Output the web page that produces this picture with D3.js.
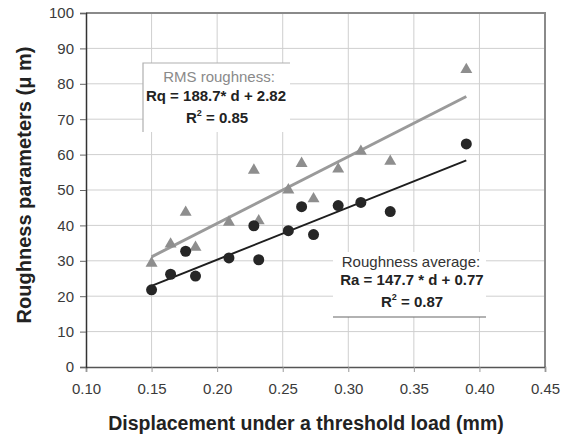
<!DOCTYPE html>
<html>
<head>
<meta charset="utf-8">
<script src="https://cdn.jsdelivr.net/npm/d3@7"></script>
<style>
  html, body { margin: 0; padding: 0; background: #fff; }
  svg { display: block; font-family: Arial, "Liberation Sans", sans-serif; }
</style>
</head>
<body>
<svg id="chart" width="569" height="439"></svg>
<script>
// Displacement under a threshold load (mm)
const displacement = [0.150, 0.1645, 0.176, 0.1835, 0.209, 0.228, 0.2317, 0.2543, 0.2644, 0.2735, 0.2923, 0.3096, 0.332, 0.390];
// RMS roughness Rq (µm)
const rmsRoughness = [29.3, 34.7, 43.7, 33.8, 40.9, 55.6, 41.3, 50.0, 57.5, 47.5, 55.9, 60.9, 58.1, 84.0];
// Roughness average Ra (µm)
const avgRoughness = [21.8, 26.2, 32.7, 25.7, 30.8, 39.9, 30.3, 38.5, 45.3, 37.4, 45.6, 46.5, 43.9, 63.0];
// Linear fits: [slope, intercept]
const rqFit = [188.7, 2.82];
const raFit = [147.7, 0.77];
const xTicks = [0.10, 0.15, 0.20, 0.25, 0.30, 0.35, 0.40, 0.45];
const yTicks = [0, 10, 20, 30, 40, 50, 60, 70, 80, 90, 100];

const svg = d3.select("#chart");
const margin = { top: 13, right: 24, bottom: 72, left: 86 };
const W = 569, H = 439;
const iw = W - margin.left - margin.right;
const ih = H - margin.top - margin.bottom;

const x = d3.scaleLinear().domain([0.10, 0.45]).range([margin.left, margin.left + iw]);
const y = d3.scaleLinear().domain([0, 100]).range([margin.top + ih, margin.top]);

// Gridlines
const grid = svg.append("g");
grid.selectAll("line.h").data(yTicks.slice(1, -1)).join("line")
  .attr("x1", x(0.10)).attr("x2", x(0.45))
  .attr("y1", d => y(d)).attr("y2", d => y(d))
  .attr("stroke", "#cfcfcf").attr("stroke-width", 1);
grid.selectAll("line.v").data(xTicks.slice(1, -1)).join("line")
  .attr("x1", d => x(d)).attr("x2", d => x(d))
  .attr("y1", y(0)).attr("y2", y(100))
  .attr("stroke", "#cfcfcf").attr("stroke-width", 1);

// Top and right frame
svg.append("path")
  .attr("d", `M${x(0.10)},${y(100)}H${x(0.45)}V${y(0)}`)
  .attr("fill", "none").attr("stroke", "#8a8a8a").attr("stroke-width", 2);

// Axes
const xAxis = svg.append("g")
  .attr("transform", `translate(0,${y(0)})`)
  .call(d3.axisBottom(x).tickValues(xTicks).tickFormat(d3.format(".2f")).tickSize(5).tickPadding(11));
xAxis.select(".domain").attr("stroke", "#555").attr("stroke-width", 1.5);
xAxis.selectAll(".tick line").attr("stroke", "#999");
xAxis.selectAll("text").attr("font-size", 15).attr("fill", "#3a3a3a")
  .attr("font-family", "Arial, 'Liberation Sans', sans-serif");

const yAxis = svg.append("g")
  .attr("transform", `translate(${x(0.10)},0)`)
  .call(d3.axisLeft(y).tickValues(yTicks).tickSize(6).tickPadding(6));
yAxis.select(".domain").attr("stroke", "#333").attr("stroke-width", 1.5);
yAxis.selectAll(".tick line").attr("stroke", "#666");
yAxis.selectAll("text").attr("font-size", 15).attr("fill", "#3a3a3a")
  .attr("font-family", "Arial, 'Liberation Sans', sans-serif");

// Trend lines
const fitLine = (fit) => [0.15, 0.39].map(d => [x(d), y(fit[0] * d + fit[1])]);
svg.append("path").attr("d", d3.line()(fitLine(rqFit)))
  .attr("stroke", "#9a9a9a").attr("stroke-width", 3).attr("fill", "none");
svg.append("path").attr("d", d3.line()(fitLine(raFit)))
  .attr("stroke", "#1e1e1e").attr("stroke-width", 2).attr("fill", "none");

// Markers
const tri = d3.symbol().type(d3.symbolTriangle).size(62);
svg.append("g").selectAll("path").data(displacement).join("path")
  .attr("d", tri)
  .attr("transform", (d, i) => `translate(${x(d)},${y(rmsRoughness[i])})`)
  .attr("fill", "#8e8e8e");
svg.append("g").selectAll("circle").data(displacement).join("circle")
  .attr("cx", d => x(d)).attr("cy", (d, i) => y(avgRoughness[i]))
  .attr("r", 5.5).attr("fill", "#262626");

// Equation boxes
function rSquared(g, cx, baseY, value) {
  const t = g.append("text").attr("x", cx).attr("y", baseY).attr("text-anchor", "middle")
    .attr("font-size", 15).attr("font-weight", "bold").attr("fill", "#222");
  t.append("tspan").text("R");
  t.append("tspan").attr("font-size", 9).attr("dy", -7).text("2");
  t.append("tspan").attr("dy", 7).text(" = " + value);
}

// RMS roughness box
const b1 = svg.append("g");
b1.append("rect").attr("x", 143).attr("y", 63).attr("width", 147).attr("height", 69).attr("fill", "#fff");
b1.append("path").attr("d", "M143,132V63H290").attr("fill", "none").attr("stroke", "#b0b0b0").attr("stroke-width", 1.2);
b1.append("text").attr("x", 219).attr("y", 82).attr("text-anchor", "middle")
  .attr("font-size", 15).attr("fill", "#8a8a8a").text("RMS roughness:");
b1.append("text").attr("x", 216).attr("y", 101).attr("text-anchor", "middle")
  .attr("font-size", 15).attr("font-weight", "bold").attr("fill", "#222")
  .text(`Rq = ${rqFit[0]}* d + ${rqFit[1]}`);
rSquared(b1, 217, 123, "0.85");

// Roughness average box
const b2 = svg.append("g");
b2.append("rect").attr("x", 333).attr("y", 252).attr("width", 153).attr("height", 65).attr("fill", "#fff");
b2.append("line").attr("x1", 333).attr("x2", 486).attr("y1", 317).attr("y2", 317)
  .attr("stroke", "#666").attr("stroke-width", 1.2);
b2.append("text").attr("x", 411).attr("y", 267).attr("text-anchor", "middle")
  .attr("font-size", 15).attr("fill", "#333").text("Roughness average:");
b2.append("text").attr("x", 412).attr("y", 285).attr("text-anchor", "middle")
  .attr("font-size", 15).attr("font-weight", "bold").attr("fill", "#222")
  .text(`Ra = ${raFit[0]} * d + ${raFit[1]}`);
rSquared(b2, 412, 307, "0.87");

// Axis titles
svg.append("text")
  .attr("transform", `translate(31,${(y(0) + y(100)) / 2 - 5}) rotate(-90)`)
  .attr("text-anchor", "middle").attr("font-size", 20).attr("font-weight", "bold").attr("fill", "#222")
  .text("Roughness parameters (\u03bc m)");
svg.append("text")
  .attr("x", 306).attr("y", 430).attr("text-anchor", "middle")
  .attr("font-size", 19.5).attr("font-weight", "bold").attr("fill", "#222")
  .text("Displacement under a threshold load (mm)");
</script>
</body>
</html>
